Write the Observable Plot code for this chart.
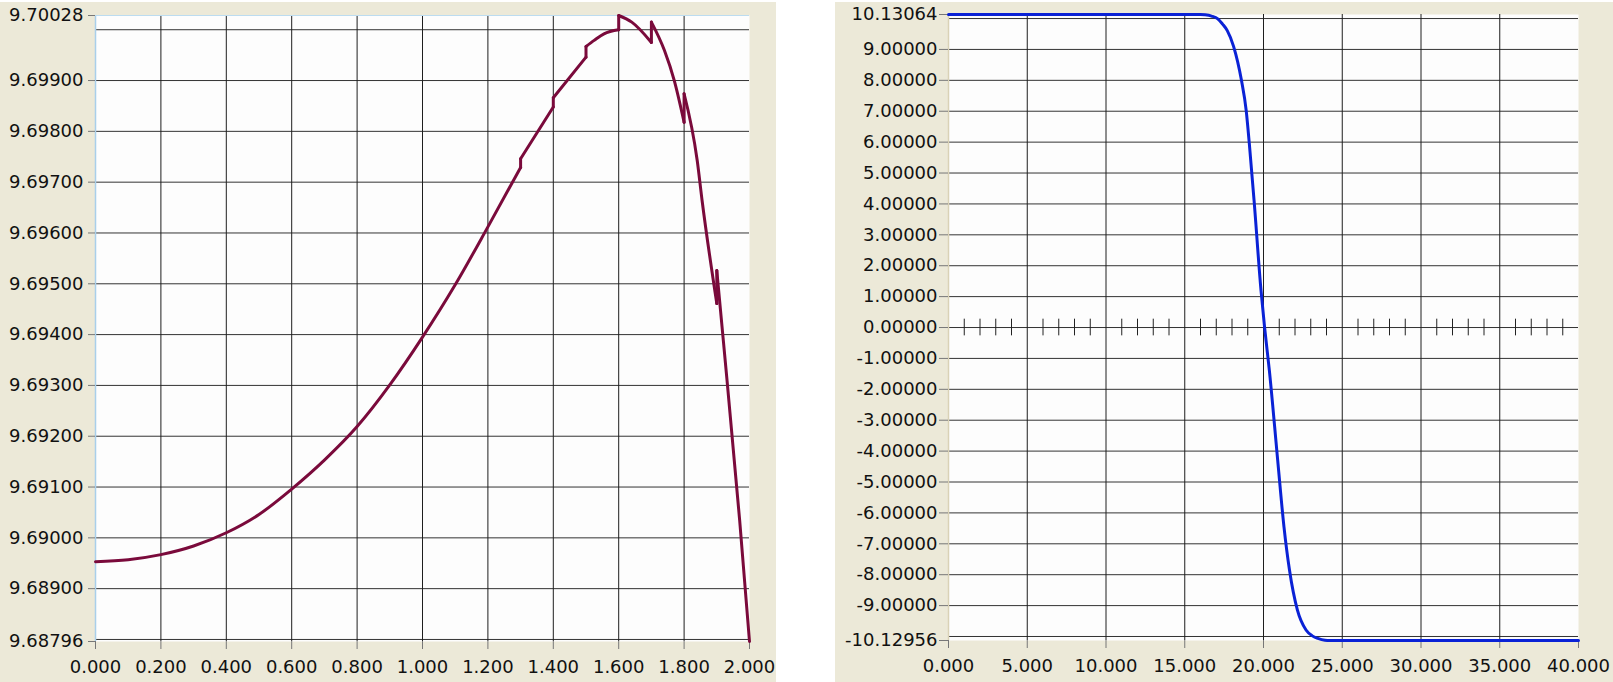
<!DOCTYPE html>
<html>
<head>
<meta charset="utf-8">
<script src="https://cdn.jsdelivr.net/npm/d3@7"></script>
<script src="https://cdn.jsdelivr.net/npm/@observablehq/plot@0.6"></script>
<style>
  html, body { margin: 0; padding: 0; background: #ffffff; width: 1613px; height: 682px; overflow: hidden; }
  .panel { position: absolute; top: 2px; height: 680px; background: #ece9d8; }
  #left { left: 0; width: 776px; }
  #right { left: 835px; width: 778px; }
  svg { display: block; }
</style>
</head>
<body>
<div id="left" class="panel"></div>
<div id="right" class="panel"></div>
<script>
// ---------- Left chart data ----------
const leftX = [0, 0.1, 0.2, 0.3, 0.4, 0.5, 0.6, 0.7, 0.8, 0.9, 1.0, 1.1, 1.2, 1.3, 1.3, 1.4, 1.4, 1.5, 1.5, 1.525, 1.555, 1.6, 1.6, 1.64, 1.7, 1.7, 1.74, 1.77, 1.8, 1.8, 1.84, 1.855, 1.9, 1.9, 1.92, 1.97, 2.0];
const leftY = [9.68953, 9.68957, 9.68967, 9.68984, 9.69010, 9.69046, 9.69096, 9.69153, 9.69219, 9.69301, 9.69395, 9.69498, 9.69612, 9.69729, 9.69746, 9.69848, 9.69866, 9.69946, 9.69967, 9.69979, 9.69992, 9.70000, 9.70028, 9.70015, 9.69975, 9.70015, 9.69959, 9.69900, 9.69818, 9.69874, 9.69743, 9.69664, 9.69461, 9.69526, 9.69388, 9.69034, 9.68796];
const leftXTicks = [0, 0.2, 0.4, 0.6, 0.8, 1.0, 1.2, 1.4, 1.6, 1.8, 2.0];
const leftYTicks = [9.68796, 9.689, 9.690, 9.691, 9.692, 9.693, 9.694, 9.695, 9.696, 9.697, 9.698, 9.699, 9.70028];
const leftXGrid = [0.2, 0.4, 0.6, 0.8, 1.0, 1.2, 1.4, 1.6, 1.8];
const leftYGrid = [9.688, 9.689, 9.690, 9.691, 9.692, 9.693, 9.694, 9.695, 9.696, 9.697, 9.698, 9.699, 9.700];

// ---------- Right chart data ----------
const rightX = [0, 16.0, 16.3, 16.7, 17.1, 17.4, 17.7, 18.1, 18.6, 18.9, 19.1, 19.4, 19.84, 20.07, 20.37, 20.9, 21.3, 21.65, 22.15, 22.7, 23.1, 23.45, 23.9, 24.2, 40];
const rightY = [10.13064, 10.13064, 10.12, 10.08, 9.99, 9.82, 9.61, 9.10, 8.00, 7.03, 5.95, 4.12, 1.21, 0.0, -1.38, -4.29, -6.45, -7.85, -9.14, -9.79, -9.98, -10.06, -10.12, -10.12956, -10.12956];
const rightXTicks = [0, 5, 10, 15, 20, 25, 30, 35, 40];
const rightYTicks = [10.13064, 9, 8, 7, 6, 5, 4, 3, 2, 1, 0, -1, -2, -3, -4, -5, -6, -7, -8, -9, -10.12956];
const rightXGrid = [5, 10, 15, 20, 25, 30, 35];
const rightYGrid = [10, 9, 8, 7, 6, 5, 4, 3, 2, 1, 0, -1, -2, -3, -4, -5, -6, -7, -8, -9, -10];
const rightMinorTicks = [1, 2, 3, 4, 6, 7, 8, 9, 11, 12, 13, 14, 16, 17, 18, 19, 21, 22, 23, 24, 26, 27, 28, 29, 31, 32, 33, 34, 36, 37, 38, 39];

// Split the left series into smooth segments and vertical jumps (repeated x)
const leftData = [];
const leftJumps = [];
let seg = 0;
leftX.forEach((x, i) => {
  if (i > 0 && x === leftX[i - 1]) {
    leftJumps.push({x, y1: leftY[i - 1], y2: leftY[i]});
    seg++;
  }
  leftData.push({x, y: leftY[i], seg});
});
const rightData = rightX.map((x, i) => ({x, y: rightY[i]}));

const baseStyle = {background: "transparent", fontFamily: "'DejaVu Sans', Verdana, sans-serif", fontSize: "18px", color: "#141414", overflow: "visible"};

const leftChart = Plot.plot({
  width: 776, height: 680,
  marginLeft: 95, marginRight: 27, marginTop: 13, marginBottom: 41,
  style: baseStyle,
  x: {domain: [0, 2]},
  y: {domain: [9.68796, 9.70028]},
  marks: [
    Plot.frame({fill: "#fdfdfd", stroke: null}),
    Plot.ruleY(leftYGrid, {stroke: "#333", strokeWidth: 1}),
    Plot.ruleX(leftXGrid, {stroke: "#1e1e1e", strokeWidth: 1}),
    Plot.ruleX([0], {stroke: "#a9cfea", strokeWidth: 1.5}),
    Plot.ruleY([9.70028], {stroke: "#bcdcf0", strokeWidth: 1}),
    Plot.axisY(leftYTicks, {tickFormat: d => d.toFixed(5), tickSize: 7, tickPadding: 5, stroke: "#777", fill: "#111", label: null}),
    Plot.axisX(leftXTicks, {tickFormat: d => d.toFixed(3), tickSize: 8, tickPadding: 11, stroke: "#777", fill: "#111", label: null}),
    Plot.line(leftData, {x: "x", y: "y", z: "seg", stroke: "#7a0a3b", strokeWidth: 3, curve: "monotone-x"}),
    Plot.link(leftJumps, {x1: "x", x2: "x", y1: "y1", y2: "y2", stroke: "#7a0a3b", strokeWidth: 3, strokeLinecap: "round"})
  ]
});
document.getElementById("left").appendChild(leftChart);

const rightChart = Plot.plot({
  width: 778, height: 680,
  marginLeft: 113, marginRight: 35, marginTop: 12, marginBottom: 42,
  style: baseStyle,
  x: {domain: [0, 40]},
  y: {domain: [-10.12956, 10.13064]},
  marks: [
    Plot.frame({fill: "#fdfdfd", stroke: null}),
    Plot.ruleY(rightYGrid, {stroke: "#333", strokeWidth: 1}),
    Plot.ruleX(rightXGrid, {stroke: "#1e1e1e", strokeWidth: 1}),
    Plot.ruleX([0], {stroke: "#d9d2b6", strokeWidth: 1.5}),
    Plot.ruleX(rightMinorTicks, {y1: -0.27, y2: 0.27, stroke: "#222", strokeWidth: 1}),
    Plot.axisY(rightYTicks, {tickFormat: d => d.toFixed(5), tickSize: 9, tickPadding: 2, stroke: "#777", fill: "#111", label: null}),
    Plot.axisX(rightXTicks, {tickFormat: d => d.toFixed(3), tickSize: 8, tickPadding: 11, stroke: "#777", fill: "#111", label: null}),
    Plot.line(rightData, {x: "x", y: "y", stroke: "#0a22d6", strokeWidth: 3, curve: "monotone-x"})
  ]
});
document.getElementById("right").appendChild(rightChart);
</script>
</body>
</html>
